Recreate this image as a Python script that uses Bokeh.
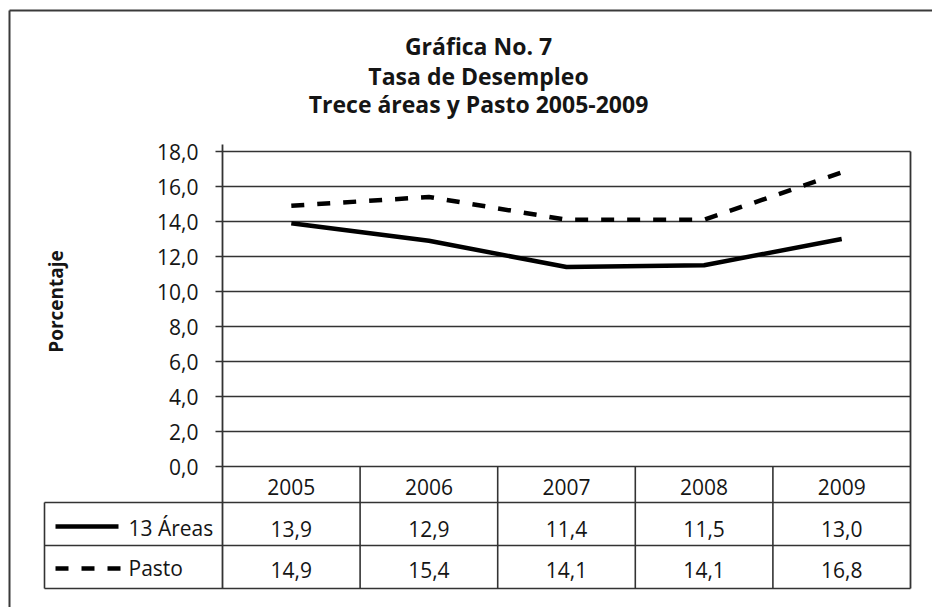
from math import pi
from bokeh.plotting import figure
from bokeh.models import Range1d
from bokeh.core.properties import value
from bokeh.embed import file_html
from bokeh.resources import INLINE

# ---------------- data ----------------
years = ["2005", "2006", "2007", "2008", "2009"]
areas13 = [13.9, 12.9, 11.4, 11.5, 13.0]
pasto = [14.9, 15.4, 14.1, 14.1, 16.8]
series_names = ["13 Áreas", "Pasto"]
y_ticks = [0, 2, 4, 6, 8, 10, 12, 14, 16, 18]
title_lines = ["Gráfica No. 7", "Tasa de Desempleo", "Trece áreas y Pasto 2005-2009"]
y_label = "Porcentaje"

# ---------------- layout (page pixels) ----------------
W, H, M = 932, 607, 0
PLOT_L, PLOT_R = 222, 910
Y_ZERO, Y_TOP = 466, 151
Y_MAX = 18
PX_PER_UNIT = (Y_ZERO - Y_TOP) / Y_MAX
COL_W = (PLOT_R - PLOT_L) / len(years)
X0_PAGE = PLOT_L + COL_W / 2


def X(px):
    return (px - X0_PAGE) / COL_W


def Y(py):
    return (Y_ZERO - py) / PX_PER_UNIT


FONT = value("Open Sans")
TXT = "#151515"
GRID = "#333333"

p = figure(width=W, height=H, output_backend="svg", toolbar_location=None,
           x_range=Range1d(X(M), X(M + W)), y_range=Range1d(Y(M + H), Y(M)),
           x_axis_type=None, y_axis_type=None, min_border=0)
p.outline_line_color = None
p.background_fill_color = "white"
p.border_fill_color = "white"

# outer frame (top and left)
p.segment(x0=[X(9), X(9)], y0=[Y(10), Y(10)], x1=[X(940), X(9)], y1=[Y(10), Y(620)],
          line_color="#3a3a3a", line_width=2)

# horizontal grid lines with tick stubs
p.segment(x0=[X(215)] * len(y_ticks), y0=y_ticks, x1=[X(PLOT_R)] * len(y_ticks), y1=y_ticks,
          line_color=GRID, line_width=1.6)

# tick labels
p.text(x=[X(198)] * len(y_ticks), y=y_ticks,
       text=[f"{t:.1f}".replace(".", ",") for t in y_ticks],
       text_font=FONT, text_font_size="21px", text_color=TXT,
       text_align="right", text_baseline="middle")

# axis line & right border
p.segment(x0=[X(PLOT_L), X(PLOT_R)], y0=[Y(144), Y(Y_TOP)],
          x1=[X(PLOT_L), X(PLOT_R)], y1=[Y(588), Y(588)],
          line_color=GRID, line_width=1.8)

# table grid
inner = [X(PLOT_L + k * COL_W) for k in range(1, len(years))]
p.segment(x0=inner, y0=[Y(Y_ZERO)] * len(inner), x1=inner, y1=[Y(588)] * len(inner),
          line_color=GRID, line_width=1.6)
row_y = [Y(502), Y(545), Y(588)]
p.segment(x0=[X(44)] * 3, y0=row_y, x1=[X(PLOT_R)] * 3, y1=row_y,
          line_color=GRID, line_width=1.6)
p.segment(x0=[X(44)], y0=[Y(502)], x1=[X(44)], y1=[Y(588)],
          line_color=GRID, line_width=1.6)

xs = list(range(len(years)))

# header row
p.text(x=xs, y=[Y(486)] * len(xs), text=years, text_font=FONT, text_font_size="21px",
       text_color=TXT, text_align="center", text_baseline="middle")
# value rows
p.text(x=xs, y=[Y(528)] * len(xs), text=[f"{v:.1f}".replace(".", ",") for v in areas13],
       text_font=FONT, text_font_size="21px", text_color=TXT,
       text_align="center", text_baseline="middle")
p.text(x=xs, y=[Y(569)] * len(xs), text=[f"{v:.1f}".replace(".", ",") for v in pasto],
       text_font=FONT, text_font_size="21px", text_color=TXT,
       text_align="center", text_baseline="middle")

# legend keys in the table
p.line(x=[X(55), X(118)], y=[Y(526), Y(526)], line_color="black", line_width=4.5)
p.line(x=[X(55), X(120)], y=[Y(568), Y(568)], line_color="black", line_width=4.5,
       line_dash="13 13")
p.text(x=[X(128), X(128)], y=[Y(527), Y(567)], text=series_names, text_font=FONT,
       text_font_size="21px", text_color=TXT, text_align="left", text_baseline="middle")

# data lines
p.line(x=xs, y=areas13, line_color="black", line_width=4.5)
p.line(x=xs, y=pasto, line_color="black", line_width=4.5, line_dash="13 13")

# title
p.text(x=[X(478)] * 3, y=[Y(45), Y(75), Y(103)], text=title_lines, text_font=FONT,
       text_font_size="23px", text_font_style="bold", text_color=TXT,
       text_align="center", text_baseline="middle")

# y-axis label
p.text(x=[X(55)], y=[Y(301)], text=[y_label], angle=pi / 2, text_font=FONT,
       text_font_size="19px", text_font_style="bold", text_color=TXT,
       text_align="center", text_baseline="middle")

open("out.html", "w").write(file_html(p, INLINE))
